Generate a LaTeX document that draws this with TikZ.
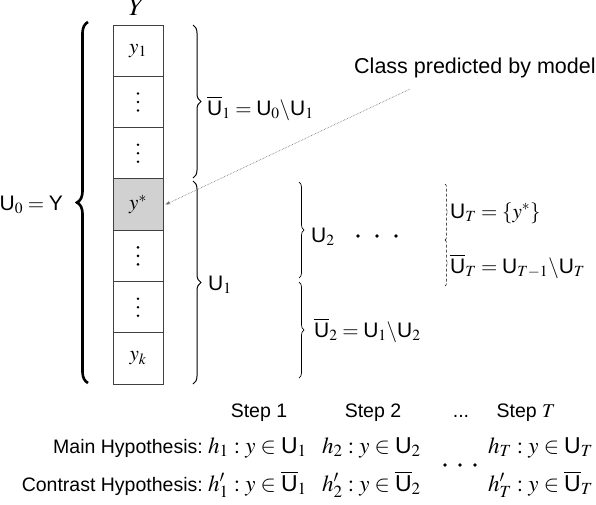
\documentclass[tikz,border=0pt]{standalone}
\usepackage{mathptmx}
\usepackage{fontspec}
\setmainfont{Liberation Serif}
\setsansfont{Liberation Sans}
\usetikzlibrary{decorations.pathreplacing,arrows.meta}
\newcommand\UU{\textsf{U}}
\newcommand\UB{\overline{\textsf{U}}}
\newcommand\YY{\textsf{Y}}
\tikzset{
  lab/.style={font=\fontsize{21}{25}\selectfont, anchor=base west, inner sep=0pt},
  cell/.style={draw=black!75, line width=0.9pt, minimum width=50pt, minimum height=51.3pt, inner sep=0pt, font=\fontsize{21}{25}\selectfont},
  starcell/.style={cell, fill=black!18},
  bigbrace/.style={decorate, decoration={brace, amplitude=11pt}, line width=2.6pt},
  brc/.style={decorate, decoration={brace, amplitude=8pt}, line width=1pt},
  smallbrc/.style={decorate, decoration={brace, amplitude=5pt}, line width=0.7pt},
  tinybrc/.style={decorate, decoration={brace, amplitude=3pt}, line width=0.5pt, densely dashed},
  txt/.style={font=\sffamily\fontsize{19.5}{23}\selectfont, inner sep=0pt},
  mth/.style={font=\fontsize{23}{27}\selectfont, inner sep=0pt, anchor=base west},
  pointer/.style={densely dotted, draw=black!60, line width=0.6pt, -{Stealth[length=5pt,width=3.5pt]}}
}
\begin{document}
\begin{tikzpicture}[x=1pt,y=-1pt]
\useasboundingbox (0,0) rectangle (596,504);
% column of classes
\node[cell] (b1) at (138,50.65) {$y_1$};
\node[cell] (b2) at (138,101.95) {};
\node[cell] (b3) at (138,153.25) {};
\node[starcell] (b4) at (138,204.55) {$y^*$};
\node[cell] (b5) at (138,255.85) {};
\node[cell] (b6) at (138,307.15) {};
\node[cell] (b7) at (138,358.45) {$y_k$};
\foreach \b in {b2,b3,b5,b6}{
  \foreach \d in {-8.5,0,8.5}{
    \fill ([yshift=\d pt]\b.center) circle[radius=1.4pt];
  }
}
\node[font=\fontsize{26}{30}\selectfont, anchor=base, inner sep=0pt] (ylab) at (137,15) {$Y$};
% braces
\coordinate (lbB) at (88,383);
\coordinate (lbT) at (88,22);
\draw[bigbrace] (lbB) -- (lbT);
\node[lab, anchor=base east] (u0) at (63,210) {$\UU_0 = \YY$};
\coordinate (r1T) at (193,25);
\coordinate (r1B) at (193,178);
\draw[brc] (r1T) -- (r1B);
\node[lab] (ub1) at (207,115) {$\UB_1 = \UU_0\backslash\UU_1$};
\coordinate (r2T) at (193,181);
\coordinate (r2B) at (193,384);
\draw[brc] (r2T) -- (r2B);
\node[lab] (u1) at (208,290) {$\UU_1$};
\coordinate (r3T) at (299,182);
\coordinate (r3B) at (299,278);
\draw[smallbrc] (r3T) -- (r3B);
\node[lab] (u2) at (311,242) {$\UU_2$};
\coordinate (r4T) at (299,282);
\coordinate (r4B) at (299,378);
\draw[smallbrc] (r4T) -- (r4B);
\node[lab] (ub2) at (314,337) {$\UB_2 = \UU_1\backslash\UU_2$};
\coordinate (r5T) at (445,184);
\coordinate (r5M) at (445,240);
\coordinate (r5B) at (445,286);
\draw[tinybrc] (r5T) -- (r5M);
\draw[tinybrc] (r5M) -- (r5B);
\node[lab] (uT) at (450,218) {$\UU_T = \{y^*\}$};
\node[lab] (ubT) at (450,273) {$\UB_T = \UU_{T-1}\backslash\UU_T$};
\foreach \x in {358,377,396}{
  \fill (\x,236) circle[radius=1.8pt];
}
% pointer
\node[font=\sffamily\fontsize{21.5}{25}\selectfont, anchor=base west, inner sep=0pt] (cls) at (354,73) {Class predicted by model};
\coordinate (arrS) at (410,89);
\draw[pointer] (arrS) -- ([xshift=2pt]b4.east);
% bottom table
\node[txt, anchor=base] (s1) at (259,417) {Step 1};
\node[txt, anchor=base] (s2) at (373,417) {Step 2};
\node[txt, anchor=base] (s3) at (461,417) {...};
\node[txt, anchor=base] (sT) at (526,417) {Step $T$};
\node[txt, anchor=base east] (mh) at (203,453) {Main Hypothesis:};
\node[mth] (m1) at (208,453) {$h_1 : y \in \UU_1$};
\node[mth] (m2) at (322,453) {$h_2 : y \in \UU_2$};
\node[mth] (mT) at (488,453) {$h_T : y \in \UU_T$};
\node[txt, anchor=base east] (ch) at (203,491) {Contrast Hypothesis:};
\node[mth] (c1) at (208,491) {$h'_1 : y \in \UB_1$};
\node[mth] (c2) at (322,491) {$h'_2 : y \in \UB_2$};
\node[mth] (cT) at (488,491) {$h'_T : y \in \UB_T$};
\foreach \x in {445,460,475}{
  \fill (\x,465) circle[radius=1.8pt];
}
\end{tikzpicture}
\end{document}
